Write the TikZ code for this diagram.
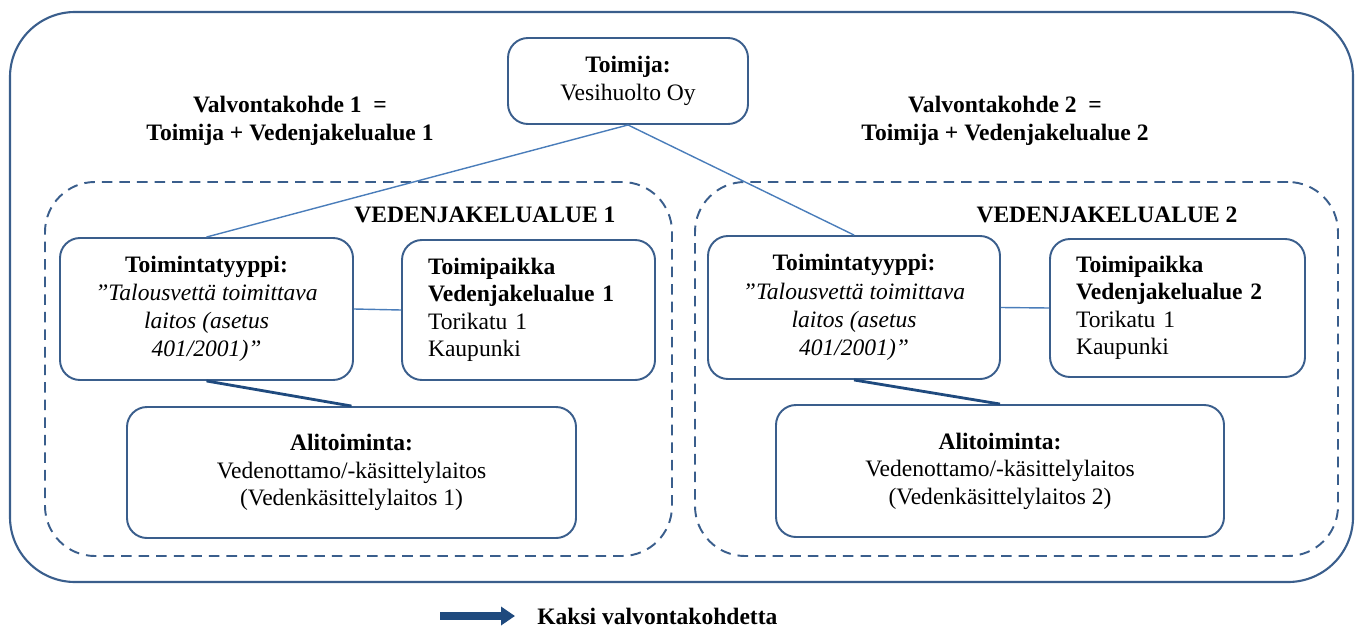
\documentclass[tikz,border=0pt]{standalone}
\usepackage{fontspec}
\setmainfont{Liberation Serif}
\usetikzlibrary{arrows.meta}
\definecolor{frame}{HTML}{3A5E8C}
\definecolor{thinline}{HTML}{4A7DBA}
\definecolor{darkline}{HTML}{1F4A7E}
\begin{document}
\begin{tikzpicture}[
  font=\fontsize{13.4}{15.6}\selectfont,
  outerframe/.style={draw=frame, line width=1.2pt, rounded corners=1.3cm},
  areaframe/.style={draw=frame, line width=1.1pt, rounded corners=1cm, dash pattern=on 6pt off 4pt},
  card/.style={draw=frame, line width=1.1pt, rounded corners=0.4cm, align=center, inner sep=0pt},
  placecard/.style={draw=frame, line width=1.1pt, rounded corners=0.4cm, align=left, inner xsep=0.52cm, inner ysep=0pt},
  thin/.style={draw=thinline, line width=0.8pt},
  thick/.style={draw=darkline, line width=1.6pt},
  lbl/.style={align=center, font=\fontsize{13.4}{15.6}\selectfont\bfseries}
]
\useasboundingbox (0,0) rectangle (27.2,-12.56);
\node[outerframe, minimum width=26.86cm, minimum height=11.4cm] (outer) at (13.63,-5.94) {};
\node[areaframe, minimum width=12.54cm, minimum height=7.48cm] (area1) at (7.17,-7.38) {};
\node[areaframe, minimum width=12.86cm, minimum height=7.48cm] (area2) at (20.33,-7.38) {};

\node[card, minimum width=4.8cm, minimum height=1.72cm] (toimija) at (12.56,-1.62) {\textbf{Toimija:}\\Vesihuolto Oy};

\node[lbl] (vk1) at (5.8,-2.42) {Valvontakohde 1\ \ =\\Toimija + Vedenjakelualue 1};
\node[lbl] (vk2) at (20.1,-2.42) {Valvontakohde 2\ \ =\\Toimija + Vedenjakelualue 2};

\node[lbl] (vj1) at (9.7,-4.3) {VEDENJAKELUALUE 1};
\node[lbl] (vj2) at (22.14,-4.3) {VEDENJAKELUALUE 2};

\node[card, minimum width=5.86cm, minimum height=2.84cm, font=\fontsize{13.4}{16}\selectfont] (tt1) at (4.13,-6.18)
  {\textbf{Toimintatyyppi:}\\\textit{”Talousvettä toimittava}\\\textit{laitos (asetus}\\\textit{401/2001)”}};
\node[placecard, text width=4.02cm, minimum height=2.8cm] (tp1) at (10.57,-6.2)
  {\textbf{Toimipaikka}\\\textbf{Vedenjakelualue 1}\\Torikatu 1\\Kaupunki};
\node[card, minimum width=8.98cm, minimum height=2.62cm] (al1) at (7.03,-9.45)
  {\textbf{Alitoiminta:}\\Vedenottamo/-käsittelylaitos\\(Vedenkäsittelylaitos 1)};

\node[card, minimum width=5.84cm, minimum height=2.86cm, font=\fontsize{13.4}{16}\selectfont] (tt2) at (17.08,-6.15)
  {\textbf{Toimintatyyppi:}\\\textit{”Talousvettä toimittava}\\\textit{laitos (asetus}\\\textit{401/2001)”}};
\node[placecard, text width=4.06cm, minimum height=2.76cm] (tp2) at (23.55,-6.16)
  {\textbf{Toimipaikka}\\\textbf{Vedenjakelualue 2}\\Torikatu 1\\Kaupunki};
\node[card, minimum width=8.96cm, minimum height=2.64cm] (al2) at (20.0,-9.42)
  {\textbf{Alitoiminta:}\\Vedenottamo/-käsittelylaitos\\(Vedenkäsittelylaitos 2)};

\draw[thin] (toimija.south) -- (tt1.north);
\draw[thin] (toimija.south) -- (tt2.north);
\draw[thin] (tt1.east) -- (tp1.west);
\draw[thin] (tt2.east) -- (tp2.west);
\draw[thick] (tt1.south) -- (al1.north);
\draw[thick] (tt2.south) -- (al2.north);

\coordinate (arrA) at (8.8,-12.32);
\coordinate (arrB) at (10.3,-12.32);
\draw[darkline, line width=4.6pt, -{Triangle[length=0.28cm, width=0.36cm]}] (arrA) -- (arrB);
\node[lbl, anchor=west, inner sep=0pt] (kaksi) at (10.74,-12.32) {Kaksi valvontakohdetta};
\end{tikzpicture}
\end{document}
